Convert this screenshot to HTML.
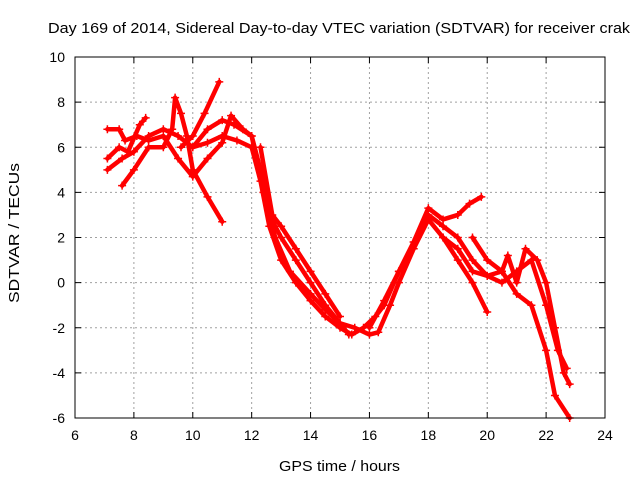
<!DOCTYPE html>
<html><head><meta charset="utf-8"><style>
html,body{margin:0;padding:0;background:#fff;}
svg{display:block;font-family:"Liberation Sans",Arial,sans-serif;}
</style></head><body>
<svg id="chart" width="640" height="480" viewBox="0 0 640 480" xmlns="http://www.w3.org/2000/svg">
<rect width="640" height="480" fill="#fff"/>
<text x="48" y="33" font-size="14.5" textLength="582" lengthAdjust="spacingAndGlyphs" fill="#000">Day 169 of 2014, Sidereal Day-to-day VTEC variation (SDTVAR) for receiver crak</text>
<g id="grid"></g>
<g id="series"></g>
<rect x="75" y="57" width="530" height="361" fill="none" stroke="#000" stroke-width="1"/>
<g id="ticks"></g>
<text x="279" y="471" font-size="15" textLength="121" lengthAdjust="spacingAndGlyphs">GPS time / hours</text>
<text transform="translate(19,303) rotate(-90)" font-size="15" textLength="140" lengthAdjust="spacingAndGlyphs">SDTVAR / TECUs</text>
</svg>
<script>
const xTicks=[6,8,10,12,14,16,18,20,22,24];
const yTicks=[-6,-4,-2,0,2,4,6,8,10];
const trackA=[[7.1,5.0],[7.6,5.5],[8.0,5.8],[8.5,6.5],[9.0,6.8],[9.5,6.5],[10.0,6.0],[10.5,6.2],[11.0,6.5],[11.5,6.3],[12.0,6.0],[12.3,4.5],[12.6,2.5],[13.0,1.0],[13.5,0.0],[14.0,-0.8],[14.5,-1.5],[15.0,-2.0],[15.4,-2.3],[15.8,-2.0],[16.2,-1.5],[16.5,-1.0],[17.0,0.5],[17.5,1.5],[18.0,3.0],[18.5,2.5],[19.0,2.0],[19.5,1.0],[20.0,0.3],[20.5,0.0],[21.0,0.5],[21.5,1.0],[22.0,-1.0],[22.4,-3.0],[22.7,-3.8]];
const trackB=[[7.1,6.8],[7.5,6.8],[7.7,6.3],[8.1,6.5],[8.5,6.3],[9.0,6.5],[9.5,5.5],[10.0,4.7],[10.5,5.5],[11.0,6.2],[11.3,7.4],[11.7,6.8],[12.0,6.5],[12.3,5.0],[12.6,3.0],[13.0,2.0],[13.5,1.0],[14.0,0.0],[14.5,-1.0],[15.0,-1.8],[15.5,-2.0],[16.0,-2.3],[16.3,-2.2],[16.7,-1.0],[17.0,0.0],[17.5,1.5],[18.0,2.8],[18.5,2.0],[19.0,1.0],[19.5,0.0],[20.0,-1.3]];
const trackC=[[7.1,5.5],[7.5,6.0],[7.8,5.8],[8.2,7.0],[8.4,7.3]];
const trackD=[[7.6,4.3],[8.0,5.0],[8.5,6.0],[9.0,6.0],[9.3,6.8],[9.4,8.2],[9.6,7.5],[9.8,6.5],[10.0,5.0],[10.5,3.8],[11.0,2.7]];
const trackE=[[9.6,6.0],[10.0,6.5],[10.4,7.5],[10.9,8.9]];
const trackF=[[10.0,6.0],[10.5,6.8],[11.0,7.2],[11.4,7.0],[12.0,6.5],[12.4,4.0],[12.8,2.0],[13.3,0.5],[14.0,-0.5],[14.5,-1.2],[15.0,-1.8],[15.3,-2.3]];
const trackG=[[12.3,6.0],[12.7,3.0],[13.0,2.5],[13.5,1.5],[14.0,0.5],[14.5,-0.5],[15.0,-1.5]];
const trackH=[[16.0,-2.0],[16.5,-0.8],[17.0,0.5],[17.5,1.8],[18.0,3.3],[18.5,2.8],[19.0,3.0],[19.4,3.5],[19.8,3.8]];
const trackI=[[18.5,2.0],[19.0,1.5],[19.5,0.5],[20.0,0.3],[20.5,0.5],[20.7,1.2],[21.0,0.0],[21.3,1.5],[21.7,1.0],[22.0,0.0],[22.3,-2.0],[22.6,-4.0],[22.8,-4.5]];
const trackJ=[[19.5,2.0],[20.0,1.0],[20.5,0.5],[21.0,-0.5],[21.5,-1.0],[22.0,-3.0],[22.3,-5.0],[22.8,-6.0]];
const tracks=[trackA,trackB,trackC,trackD,trackE,trackF,trackG,trackH,trackI,trackJ];

const X0=75,X1=605,Y0=418,Y1=57;
function sx(v){return X0+(v-6)/(24-6)*(X1-X0);}
function sy(v){return Y0-(v-(-6))/(10-(-6))*(Y0-Y1);}
const NS="http://www.w3.org/2000/svg";
const grid=document.getElementById('grid'),ticks=document.getElementById('ticks'),ser=document.getElementById('series');
function mk(t,a){const e=document.createElementNS(NS,t);for(const k in a)e.setAttribute(k,a[k]);return e;}
xTicks.forEach(v=>{
  const x=sx(v);
  if(v>6&&v<24){const g=mk('line',{x1:x,x2:x,y1:Y1,y2:Y0,stroke:'#a0a0a0','stroke-dasharray':'2,3','stroke-width':1});
  
  
  grid.appendChild(g);}
  const tl=mk('path',{d:`M${x},${Y0}v-6M${x},${Y1}v6`,stroke:'#000'});
  ticks.appendChild(tl);
  const t=mk('text',{x:x,y:Y0+22,'font-size':14,'text-anchor':'middle'});t.textContent=v;
  
  
  ticks.appendChild(t);
});
yTicks.forEach(v=>{
  const y=sy(v);
  if(v>-6&&v<10){const g=mk('line',{x1:X0,x2:X1,y1:y,y2:y,stroke:'#a0a0a0','stroke-dasharray':'2,3','stroke-width':1});
  
  
  grid.appendChild(g);}
  const tl=mk('path',{d:`M${X0},${y}h6M${X1},${y}h-6`,stroke:'#000'});
  ticks.appendChild(tl);
  const t=mk('text',{x:X0-10,y:y+5,'font-size':14,'text-anchor':'end'});t.textContent=v;
  
  
  ticks.appendChild(t);
});
tracks.forEach((tr,i)=>{
  const pl=mk('polyline',{points:tr.map(p=>sx(p[0])+','+sy(p[1])).join(' '),fill:'none',stroke:'#f00','stroke-width':4.5,'stroke-linejoin':'round','stroke-linecap':'round'});
  
  
  ser.appendChild(pl);
  tr.forEach(p=>{
    const m=mk('path',{d:`M${sx(p[0])-4},${sy(p[1])}h8M${sx(p[0])},${sy(p[1])-4}v8`,stroke:'#f00','stroke-width':1.5});
    
    
    ser.appendChild(m);
  });
});
</script>
</body></html>
